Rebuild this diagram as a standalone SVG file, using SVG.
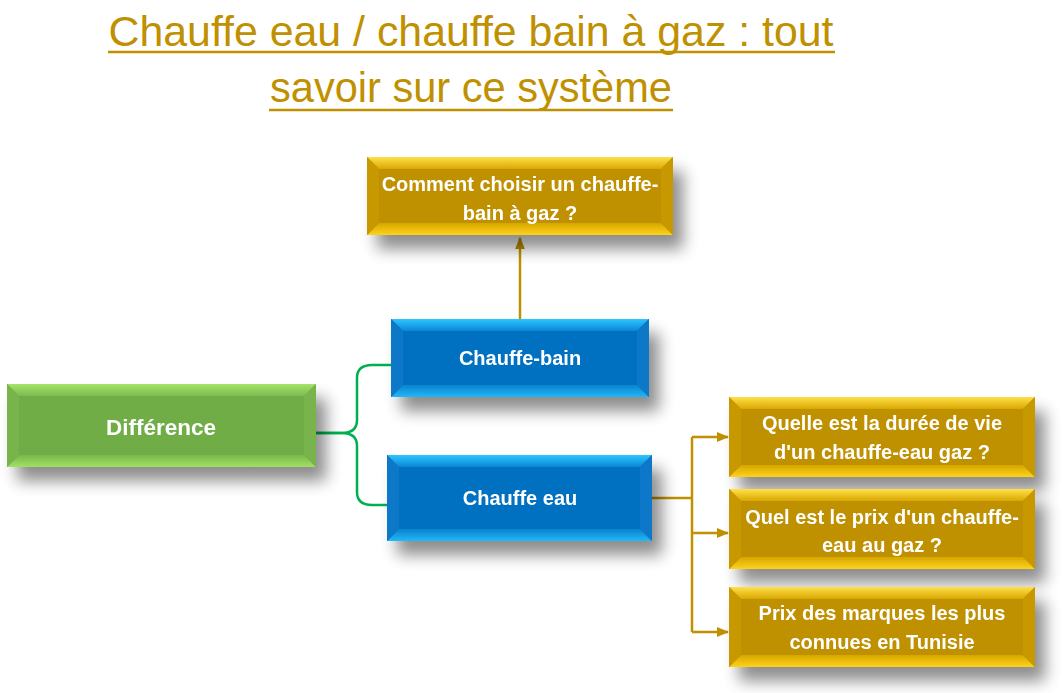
<svg xmlns="http://www.w3.org/2000/svg" width="1062" height="693" viewBox="0 0 1062 693">
<defs>
  <filter id="sh" x="-20%" y="-30%" width="150%" height="190%">
    <feGaussianBlur in="SourceAlpha" stdDeviation="8"/>
    <feOffset dx="10" dy="14" result="b"/>
    <feComponentTransfer><feFuncA type="linear" slope="0.45"/></feComponentTransfer>
    <feMerge><feMergeNode/><feMergeNode in="SourceGraphic"/></feMerge>
  </filter>
  <linearGradient id="gTop" x1="0" y1="0" x2="0" y2="1"><stop offset="0" stop-color="#FFE04A"/><stop offset="1" stop-color="#D9A800"/></linearGradient>
  <linearGradient id="gBot" x1="0" y1="0" x2="0" y2="1"><stop offset="0" stop-color="#D6A600"/><stop offset="1" stop-color="#FFD21A"/></linearGradient>
  <linearGradient id="bTop" x1="0" y1="0" x2="0" y2="1"><stop offset="0" stop-color="#2DC6FF"/><stop offset="1" stop-color="#0A86D6"/></linearGradient>
  <linearGradient id="bBot" x1="0" y1="0" x2="0" y2="1"><stop offset="0" stop-color="#0A82D0"/><stop offset="1" stop-color="#22B8F8"/></linearGradient>
  <linearGradient id="nTop" x1="0" y1="0" x2="0" y2="1"><stop offset="0" stop-color="#A6E36A"/><stop offset="1" stop-color="#7CBB4E"/></linearGradient>
  <linearGradient id="nBot" x1="0" y1="0" x2="0" y2="1"><stop offset="0" stop-color="#7AB74C"/><stop offset="1" stop-color="#A2E064"/></linearGradient>
  <marker id="arr" viewBox="0 0 10 10" refX="9" refY="5" markerWidth="5" markerHeight="5" orient="auto-start-reverse">
    <path d="M0,1 L10,5 L0,9 z" fill="#BF9000"/>
  </marker>
</defs>
<style>
  .title{font-family:"Liberation Sans",Arial,sans-serif;font-size:42px;fill:#BF9000}
  .ul{stroke:#BF9000;stroke-width:2.5}
  .t{font-family:"Liberation Sans",Arial,sans-serif;font-weight:bold;font-size:20px;fill:#FFFFFF;text-anchor:middle}
  .big{font-size:22.5px}
  .gold{fill:#BF9000}
  .goldS{fill:#C89800}
  .blue{fill:#0070C0}
  .blueS{fill:#0A78C8}
  .green{fill:#70AD47}
  .greenS{fill:#78B44C}
  .cg{fill:none;stroke:#BF9000;stroke-width:2.5}
  .cgr{fill:none;stroke:#00B050;stroke-width:2.5}
</style>

<g id="title">
  <text class="title" x="471" y="46" text-anchor="middle" textLength="725" lengthAdjust="spacingAndGlyphs">Chauffe eau / chauffe bain à gaz : tout</text>
  <line class="ul" x1="108" y1="52" x2="835" y2="52"/>
  <text class="title" x="471" y="102" text-anchor="middle" textLength="402" lengthAdjust="spacingAndGlyphs">savoir sur ce système</text>
  <line class="ul" x1="269" y1="110" x2="673" y2="110"/>
</g>

<g id="connectors">
  <line class="cg" x1="520" y1="319" x2="520" y2="238" marker-end="url(#arr)"/>
  <path class="cgr" d="M316,433 H342 Q357,433 357,420 V378 Q357,365 372,365 H391"/>
  <path class="cgr" d="M316,433 H342 Q357,433 357,446 V492 Q357,505 372,505 H387"/>
  <path class="cg" d="M652,498 H692"/>
  <path class="cg" d="M692,437 V632"/>
  <path class="cg" d="M692,437 H728" marker-end="url(#arr)"/>
  <path class="cg" d="M692,533 H728" marker-end="url(#arr)"/>
  <path class="cg" d="M692,632 H728" marker-end="url(#arr)"/>
</g>

<g id="node-comment" filter="url(#sh)">
  <rect class="gold" x="367" y="157" width="306" height="78"/>
  <polygon fill="url(#gTop)" points="367,157 673,157 661,169 379,169"/>
  <polygon fill="url(#gBot)" points="367,235 673,235 661,223 379,223"/>
  <polygon class="goldS" points="367,157 379,169 379,223 367,235"/>
  <polygon class="goldS" points="673,157 661,169 661,223 673,235"/>
  <text class="t" x="520" y="191">Comment choisir un chauffe-</text>
  <text class="t" x="520" y="220">bain à gaz ?</text>
</g>

<g id="node-difference" filter="url(#sh)">
  <rect class="green" x="7" y="384" width="309" height="83"/>
  <polygon fill="url(#nTop)" points="7,384 316,384 304,396 19,396"/>
  <polygon fill="url(#nBot)" points="7,467 316,467 304,455 19,455"/>
  <polygon class="greenS" points="7,384 19,396 19,455 7,467"/>
  <polygon class="greenS" points="316,384 304,396 304,455 316,467"/>
  <text class="t big" x="161" y="435">Différence</text>
</g>

<g id="node-chauffe-bain" filter="url(#sh)">
  <rect class="blue" x="391" y="319" width="258" height="78"/>
  <polygon fill="url(#bTop)" points="391,319 649,319 637,331 403,331"/>
  <polygon fill="url(#bBot)" points="391,397 649,397 637,385 403,385"/>
  <polygon class="blueS" points="391,319 403,331 403,385 391,397"/>
  <polygon class="blueS" points="649,319 637,331 637,385 649,397"/>
  <text class="t" x="520" y="365">Chauffe-bain</text>
</g>

<g id="node-chauffe-eau" filter="url(#sh)">
  <rect class="blue" x="387" y="455" width="265" height="86"/>
  <polygon fill="url(#bTop)" points="387,455 652,455 640,467 399,467"/>
  <polygon fill="url(#bBot)" points="387,541 652,541 640,529 399,529"/>
  <polygon class="blueS" points="387,455 399,467 399,529 387,541"/>
  <polygon class="blueS" points="652,455 640,467 640,529 652,541"/>
  <text class="t" x="520" y="505">Chauffe eau</text>
</g>

<g id="node-duree" filter="url(#sh)">
  <rect class="gold" x="729" y="397" width="306" height="80"/>
  <polygon fill="url(#gTop)" points="729,397 1035,397 1023,409 741,409"/>
  <polygon fill="url(#gBot)" points="729,477 1035,477 1023,465 741,465"/>
  <polygon class="goldS" points="729,397 741,409 741,465 729,477"/>
  <polygon class="goldS" points="1035,397 1023,409 1023,465 1035,477"/>
  <text class="t" x="882" y="430">Quelle est la durée de vie</text>
  <text class="t" x="882" y="459">d'un chauffe-eau gaz ?</text>
</g>

<g id="node-prix" filter="url(#sh)">
  <rect class="gold" x="729" y="489" width="306" height="80"/>
  <polygon fill="url(#gTop)" points="729,489 1035,489 1023,501 741,501"/>
  <polygon fill="url(#gBot)" points="729,569 1035,569 1023,557 741,557"/>
  <polygon class="goldS" points="729,489 741,501 741,557 729,569"/>
  <polygon class="goldS" points="1035,489 1023,501 1023,557 1035,569"/>
  <text class="t" x="882" y="524">Quel est le prix d'un chauffe-</text>
  <text class="t" x="882" y="552">eau au gaz ?</text>
</g>

<g id="node-marques" filter="url(#sh)">
  <rect class="gold" x="729" y="587" width="306" height="80"/>
  <polygon fill="url(#gTop)" points="729,587 1035,587 1023,599 741,599"/>
  <polygon fill="url(#gBot)" points="729,667 1035,667 1023,655 741,655"/>
  <polygon class="goldS" points="729,587 741,599 741,655 729,667"/>
  <polygon class="goldS" points="1035,587 1023,599 1023,655 1035,667"/>
  <text class="t" x="882" y="620">Prix des marques les plus</text>
  <text class="t" x="882" y="649">connues en Tunisie</text>
</g>
</svg>
